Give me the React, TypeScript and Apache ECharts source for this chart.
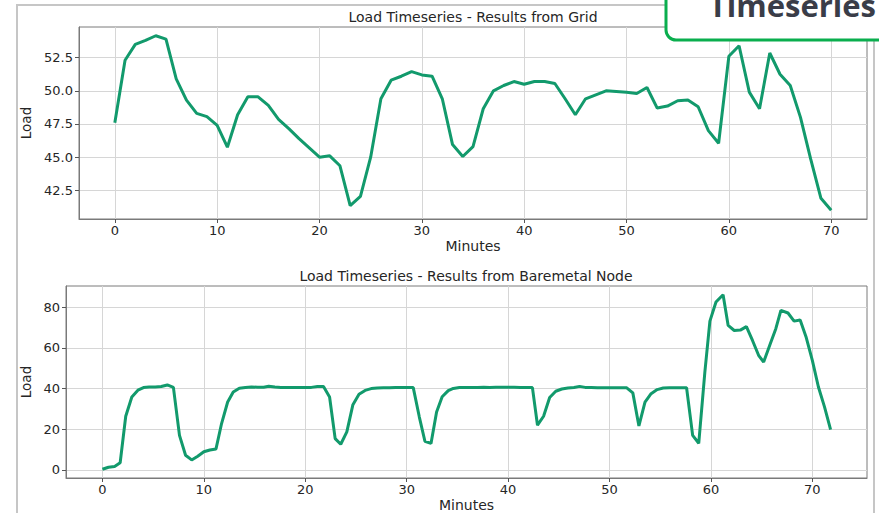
import React, { useEffect, useRef } from "react";
import * as echarts from "echarts";

// ---- Data ----
const gridMinutes = [
  0, 1, 2, 3, 4, 5, 6, 7, 8, 9, 10, 11, 12, 13, 14, 15, 16, 17, 18, 19, 20,
  21, 22, 23, 24, 25, 26, 27, 28, 29, 30, 31, 32, 33, 34, 35, 36, 37, 38, 39, 40,
  41, 42, 43, 44, 45, 46, 47, 48, 49, 50, 51, 52, 53, 54, 55, 56, 57, 58, 59, 60,
  61, 62, 63, 64, 65, 66, 67, 68, 69, 70,
];
const gridLoad = [
  47.6, 52.3, 53.5, 53.8, 54.15, 53.9, 50.9, 49.3, 48.3, 48.05, 47.4,
  45.75, 48.2, 49.55, 49.55, 48.9, 47.85, 47.15, 46.4, 45.7, 45.0,
  45.1, 44.35, 41.35, 42.05, 45.0, 49.4, 50.8, 51.1, 51.45, 51.2,
  51.1, 49.4, 45.95, 45.05, 45.8, 48.65, 50.0, 50.4, 50.7, 50.5,
  50.7, 50.7, 50.55, 49.4, 48.2, 49.4, 49.7, 50.0, 49.95, 49.9,
  49.8, 50.25, 48.7, 48.85, 49.25, 49.3, 48.8, 47.0, 46.05, 52.6,
  53.4, 49.9, 48.65, 52.85, 51.25, 50.4, 48.0, 44.85, 41.9, 41.0,
];

const nodeMinutes = [
  0, 0.6, 1.2, 1.75, 2.3, 2.9, 3.5, 4.05, 4.6, 5.2, 5.8, 6.4, 7.0, 7.6, 8.2,
  8.8, 9.4, 10.0, 10.6, 11.2, 11.75, 12.35, 12.9, 13.5, 14.1, 14.7, 15.3, 15.9,
  16.4, 17.0, 17.6, 18.2, 18.8, 19.4, 20.0, 20.6, 21.2, 21.8, 22.4, 22.95, 23.5,
  24.1, 24.7, 25.3, 25.9, 26.5, 27.1, 27.7, 28.3, 28.9, 29.5, 30.0, 30.65, 31.25,
  31.8, 32.4, 32.95, 33.5, 34.1, 34.6, 35.2, 35.8, 36.4, 37.0, 37.6, 38.2, 38.8,
  39.4, 40.0, 40.6, 41.2, 41.8, 42.4, 42.9, 43.5, 44.1, 44.7, 45.3, 45.9, 46.5,
  47.05, 47.6, 48.2, 48.8, 49.4, 50.0, 50.6, 51.2, 51.7, 52.3, 52.9, 53.5, 54.1,
  54.7, 55.3, 55.9, 56.5, 57.0, 57.6, 58.2, 58.8, 59.4, 59.9, 60.5, 61.2, 61.7,
  62.3, 62.9, 63.5, 64.1, 64.7, 65.2, 65.8, 66.4, 66.9, 67.6, 68.2, 68.8, 69.4,
  70.0, 70.6, 71.2, 71.8,
];
const nodeLoad = [
  0.3, 1.3, 1.7, 3.5, 26.4, 35.9, 39.2, 40.5, 40.8, 40.8, 41.0, 41.8, 40.6, 17.0, 7.2,
  4.9, 6.7, 8.9, 9.8, 10.3, 22.8, 33.4, 38.3, 40.2, 40.5, 40.8, 40.7, 40.7,
  41.2, 40.8, 40.6, 40.6, 40.6, 40.6, 40.5, 40.6, 41.0, 41.0, 35.9, 15.4, 12.6,
  18.7, 32.1, 37.2, 39.1, 40.0, 40.3, 40.4, 40.4, 40.5, 40.6, 40.5, 40.5, 26.0,
  14.1, 13.0, 28.5, 36.0, 39.0, 40.1, 40.5, 40.6, 40.6, 40.6, 40.7, 40.6, 40.7,
  40.7, 40.7, 40.7, 40.6, 40.5, 40.5, 22.0, 26.4, 35.6, 38.7, 39.8, 40.3, 40.5,
  41.1, 40.6, 40.5, 40.4, 40.4, 40.4, 40.4, 40.4, 40.4, 37.9, 21.6, 33.4, 37.5,
  39.5, 40.3, 40.4, 40.4, 40.4, 40.4, 17.0, 13.1, 48.0, 73.2, 82.6, 86.2, 71.1,
  68.6, 68.8, 70.5, 63.7, 56.4, 53.1, 61.3, 69.5, 78.5, 77.2, 73.2, 73.8, 65.1,
  53.9, 40.8, 31.0, 19.8,
];

const minuteTicks = [0, 10, 20, 30, 40, 50, 60, 70];
const gridLoadTicks = [42.5, 45.0, 47.5, 50.0, 52.5];
const nodeLoadTicks = [0, 20, 40, 60, 80];

const titles = [
  "Load Timeseries - Results from Grid",
  "Load Timeseries - Results from Baremetal Node",
];
const badgeText = "Timeseries";

// ---- Styling ----
const FONT = "DejaVu Sans";
const TEXT = "#262626";
const LINE = "#129a6c";

function xAxisOf(gridIndex: number, min: number, max: number) {
  return {
    type: "value",
    gridIndex,
    min,
    max,
    name: "Minutes",
    nameLocation: "middle",
    nameGap: 20,
    nameTextStyle: { fontFamily: FONT, fontSize: 14, color: TEXT },
    axisLine: { show: true, onZero: false, lineStyle: { color: "#7a7a7a", width: 1 } },
    axisTick: { show: true, length: 4, customValues: minuteTicks, lineStyle: { color: "#555" } },
    axisLabel: {
      customValues: minuteTicks,
      fontFamily: FONT,
      fontSize: 13,
      color: TEXT,
      margin: 5,
    },
    splitLine: { show: true, lineStyle: { color: "#d6d6d6", width: 1 } },
  };
}

function yAxisOf(gridIndex: number, min: number, max: number, ticks: number[], digits: number, gap: number) {
  return {
    type: "value",
    gridIndex,
    min,
    max,
    name: "Load",
    nameLocation: "middle",
    nameGap: gap,
    nameTextStyle: { fontFamily: FONT, fontSize: 13.5, color: TEXT },
    axisLine: { show: true, onZero: false, lineStyle: { color: "#7a7a7a", width: 1 } },
    axisTick: { show: true, length: 4, customValues: ticks, lineStyle: { color: "#555" } },
    axisLabel: {
      customValues: ticks,
      fontFamily: FONT,
      fontSize: 13,
      color: TEXT,
      margin: 6,
      formatter: (v: number) => v.toFixed(digits),
    },
    splitLine: { show: true, lineStyle: { color: "#d6d6d6", width: 1 } },
  };
}

export default function App() {
  const ref = useRef<HTMLDivElement>(null);

  useEffect(() => {
    if (!ref.current) return;
    const chart = echarts.init(ref.current, null, { renderer: "svg" });

    const gridPts = gridMinutes.map((m, i) => [m, gridLoad[i]]);
    const nodePts = nodeMinutes.map((m, i) => [m, nodeLoad[i]]);

    chart.setOption({
      animation: false,
      backgroundColor: "#ffffff",
      textStyle: { fontFamily: FONT },
      title: [
        {
          text: titles[0],
          left: 473,
          top: 10,
          textAlign: "center",
          padding: 0,
          textStyle: { fontFamily: FONT, fontSize: 14, fontWeight: "normal", color: TEXT },
        },
        {
          text: titles[1],
          left: 466,
          top: 269,
          textAlign: "center",
          padding: 0,
          textStyle: { fontFamily: FONT, fontSize: 14, fontWeight: "normal", color: TEXT },
        },
      ],
      grid: [
        { left: 79, top: 27, width: 788, height: 192, show: true, borderColor: "#7a7a7a", borderWidth: 1, backgroundColor: "transparent" },
        { left: 66, top: 286, width: 801, height: 192, show: true, borderColor: "#7a7a7a", borderWidth: 1, backgroundColor: "transparent" },
      ],
      xAxis: [xAxisOf(0, -3.5, 73.5), xAxisOf(1, -3.59, 75.39)],
      yAxis: [
        yAxisOf(0, 40.34, 54.81, gridLoadTicks, 1, 39),
        yAxisOf(1, -4.0, 90.5, nodeLoadTicks, 0, 26),
      ],
      series: [
        {
          type: "line",
          xAxisIndex: 0,
          yAxisIndex: 0,
          data: gridPts,
          showSymbol: false,
          symbol: "none",
          lineStyle: { color: LINE, width: 3 },
          z: 3,
        },
        {
          type: "line",
          xAxisIndex: 1,
          yAxisIndex: 1,
          data: nodePts,
          showSymbol: false,
          symbol: "none",
          lineStyle: { color: LINE, width: 3 },
          z: 3,
        },
      ],
      graphic: [
        {
          type: "rect",
          z: 100,
          shape: { x: 17, y: 5, width: 857, height: 530 },
          style: { fill: "none", stroke: "#c6c6c6", lineWidth: 2 },
        },
        {
          type: "rect",
          z: 110,
          shape: { x: 666, y: -30, width: 260, height: 70, r: 10 },
          style: { fill: "#ffffff", stroke: "#0aae4e", lineWidth: 3 },
        },
        {
          type: "text",
          z: 120,
          x: 876,
          y: 5,
          style: {
            text: badgeText,
            fill: "#3a3d48",
            font: "bold 31px 'Open Sans'",
            textAlign: "right",
            textVerticalAlign: "middle",
          },
        },
      ],
    });

    return () => chart.dispose();
  }, []);

  return (
    <div
      ref={ref}
      style={{ position: "fixed", left: 0, top: 0, width: 879, height: 513 }}
    />
  );
}
